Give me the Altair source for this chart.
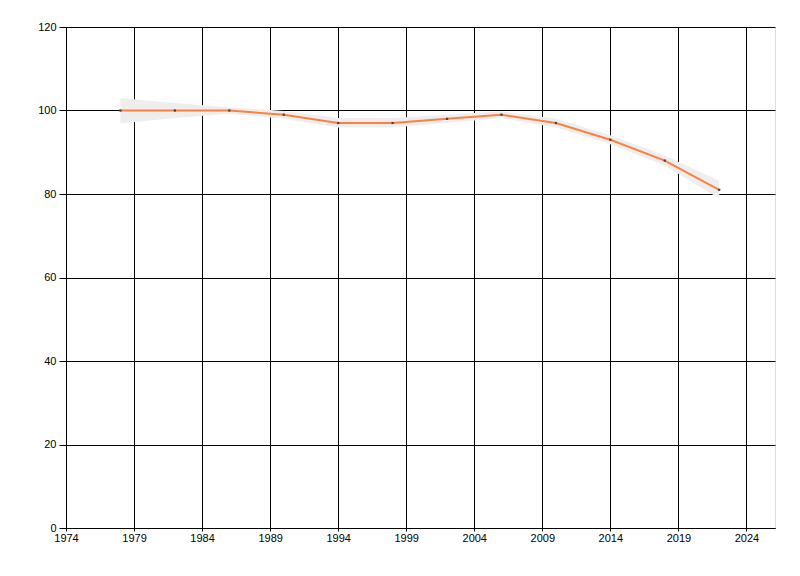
import altair as alt
import pandas as pd

years = [1978, 1982, 1986, 1990, 1994, 1998, 2002, 2006, 2010, 2014, 2018, 2022]
values = [100, 100, 100, 99, 97, 97, 98, 99, 97, 93, 88, 81]
lower = [96.9, 98.2, 99.2, 98.0, 95.9, 95.9, 97.0, 98.2, 95.9, 91.9, 86.8, 78.9]
upper = [103.0, 101.8, 100.8, 99.9, 98.2, 98.2, 99.0, 99.8, 98.0, 94.1, 89.2, 83.2]
x_ticks = [1974, 1979, 1984, 1989, 1994, 1999, 2004, 2009, 2014, 2019, 2024]
y_ticks = [0, 20, 40, 60, 80, 100, 120]

df = pd.DataFrame({"year": years, "value": values, "lo": lower, "hi": upper})

xs = alt.Scale(domain=[1974, 2026.1], nice=False, zero=False)
ys = alt.Scale(domain=[0, 120], nice=False)

xaxis = alt.Axis(values=x_ticks, format="d", title=None, grid=True, gridColor="black",
                 gridOpacity=1, tickColor="black", domainColor="black", tickSize=3,
                 labelColor="black", labelFont="Liberation Sans", labelFontSize=11,
                 labelPadding=1, labelFlush=False, labelOverlap=False)
yaxis = alt.Axis(values=y_ticks, title=None, grid=True, gridColor="black",
                 gridOpacity=1, tickColor="black", domainColor="black", tickSize=7,
                 labelColor="black", labelFont="Liberation Sans", labelFontSize=11,
                 labelPadding=3, labelFlush=False)

base = alt.Chart(df)
band = base.mark_area(color="#eeeeee", opacity=1).encode(
    x=alt.X("year:Q", scale=xs, axis=xaxis),
    y=alt.Y("lo:Q", scale=ys, axis=yaxis),
    y2="hi:Q",
)
line = base.mark_line(color="#ff7f3f", strokeWidth=2).encode(
    x=alt.X("year:Q", scale=xs),
    y=alt.Y("value:Q", scale=ys),
)
pts = base.mark_square(color="#444444", size=5, opacity=1).encode(
    x=alt.X("year:Q", scale=xs),
    y=alt.Y("value:Q", scale=ys),
)

chart = (band + line + pts).properties(
    width=709, height=501,
    autosize=alt.AutoSizeParams(type="none"),
    padding={"left": 58, "top": 19, "right": 10, "bottom": 40},
).configure_view(stroke=None).configure(background="white")

chart.save("out.html", embed_options={"renderer": "svg", "actions": False})
